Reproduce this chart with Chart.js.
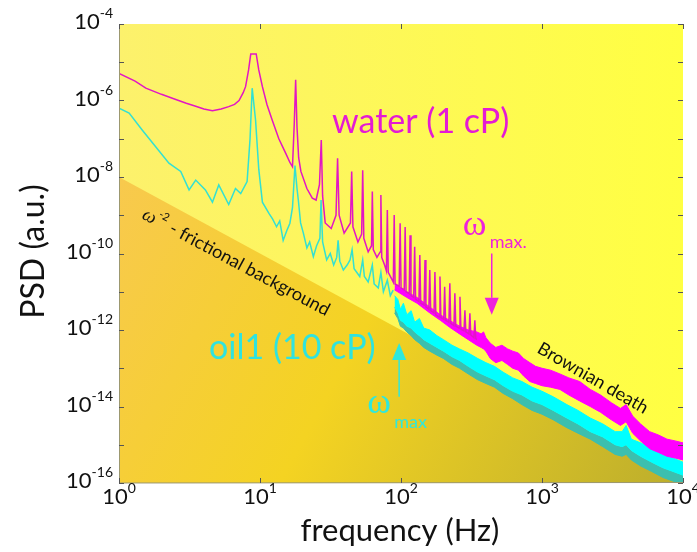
<!DOCTYPE html>
<html>
<head>
<meta charset="utf-8">
<script src="https://cdn.jsdelivr.net/npm/chart.js@4"></script>
<style>
  html, body { margin: 0; padding: 0; background: #fff; }
  #chart { display: block; }
</style>
</head>
<body>
<canvas id="chart" width="697" height="552"></canvas>
<script>
// axis ranges and tick labels (powers of ten)
const xTickExp = [0, 1, 2, 3, 4];
const yTickExp = [-4, -6, -8, -10, -12, -14, -16];
const yMinorExp = [-5, -7, -9, -11, -13, -15];

// water (1 cP): low frequency trace with the harmonic comb
const waterFreq = [1, 1.3, 1.55, 2.0, 2.39, 3.0, 3.5, 4.0, 4.6, 5.3, 6.0, 6.6, 7.1, 7.6, 7.9, 8.3, 8.6, 9.4, 9.8, 10.4,
  11.2, 12.2, 13.6, 15.2, 16.3, 17.0, 17.5, 17.9, 18.3, 18.8, 19.5, 21.5, 23.5, 25.0, 26.4, 27.2, 27.8, 29, 32, 34.6,
  35.5, 36.4, 39.5, 43.8, 44.7, 45.6, 49.5, 52.6, 53.5, 54.5, 58.5, 61.8, 62.6, 63.6, 67.5, 71.2, 72, 73, 76.5,
  78.8, 80, 81.2, 88.2, 89.5, 90.8, 97.1, 98.6, 100.1, 105.4, 107, 108.6, 114.3, 116, 117.7, 123.1, 125, 126.9,
  134, 136, 138, 145.8, 148, 150.2, 157.6, 160, 162.4, 171.4, 174, 176.6, 186.2, 189, 191.8, 201, 204, 207,
  218.7, 222, 225.3, 237.4, 241, 244.6, 258, 262, 266, 279.7, 284, 288.3, 303.4, 308, 312.6, 329, 334, 339, 345];
const waterPsd = [5.1e-6, 3.2e-6, 2.1e-6, 1.45e-6, 1.15e-6, 8.5e-7, 7.1e-7, 6.0e-7, 5.4e-7, 6.0e-7, 6.9e-7, 7.9e-7, 1.0e-6, 1.6e-6, 2.3e-6, 6.3e-6, 1.65e-5, 1.65e-5, 6.3e-6, 2.3e-6,
  7.9e-7, 3.1e-7, 1.0e-7, 4.2e-8, 2.4e-8, 1.85e-8, 2.5e-7, 3.5e-6, 2.0e-7, 3.2e-8, 1.4e-8, 5.0e-9, 2.8e-9, 2.5e-9, 6.3e-9, 9.3e-8, 3.2e-9, 6.3e-10, 4.5e-10, 1.0e-9,
  3.1e-8, 1.0e-9, 3.4e-10, 6.3e-10, 1.4e-8, 5.0e-10, 2.0e-10, 3.2e-10, 1.5e-8, 2.5e-10, 1.1e-10, 1.6e-10, 4.2e-9, 1.26e-10, 7.9e-11, 1.1e-10, 3.4e-9, 7.9e-11, 5.0e-11,
  3.5e-11, 1.38e-9, 3.2e-11, 1.78e-11, 1.02e-9, 1.6e-11, 1.4e-11, 6.2e-10, 1.26e-11, 1.12e-11, 4.9e-10, 1.0e-11, 8.9e-12, 3.0e-10, 7.9e-12, 7.1e-12, 1.5e-10, 6.3e-12,
  5.6e-12, 9.1e-11, 5.0e-12, 4.5e-12, 6.8e-11, 4.0e-12, 3.5e-12, 3.7e-11, 3.2e-12, 2.8e-12, 3.3e-11, 2.5e-12, 2.2e-12, 2.5e-11, 2.1e-12, 1.9e-12, 1.35e-11, 1.8e-12,
  1.6e-12, 1.66e-11, 1.5e-12, 1.3e-12, 9.1e-12, 1.26e-12, 1.12e-12, 7.4e-12, 1.05e-12, 9.5e-13, 3.3e-12, 8.9e-13, 7.9e-13, 2.75e-12, 7.4e-13, 6.3e-13, 1.8e-12, 6.0e-13, 5.6e-13];

// water above ~90 Hz: noisy floor band, upper and lower edge
const waterBandFreq = [90, 110, 130, 160, 190, 220, 260, 300, 345, 370, 385, 400, 430, 470, 520, 570, 620, 680, 740, 820, 900,
  1000, 1150, 1340, 1550, 1850, 2200, 2600, 3100, 3600, 3950, 4400, 5000, 5800, 6700, 7700, 8800, 10000];
const waterBandTop = [1.6e-11, 1.0e-11, 7.1e-12, 4.0e-12, 2.5e-12, 1.8e-12, 1.26e-12, 1.0e-12, 8.9e-13, 7.9e-13, 8.9e-13, 6.3e-13, 4.5e-13, 3.5e-13, 4.0e-13, 3.2e-13, 2.8e-13, 2.5e-13, 1.8e-13, 1.4e-13, 1.12e-13,
  1.0e-13, 8.9e-14, 7.1e-14, 5.6e-14, 4.5e-14, 2.8e-14, 2.0e-14, 1.26e-14, 8.9e-15, 1.12e-14, 5.6e-15, 3.5e-15, 2.2e-15, 1.8e-15, 1.4e-15, 1.26e-15, 1.12e-15];
const waterBandLow = [1.12e-11, 7.1e-12, 5.0e-12, 2.8e-12, 1.8e-12, 1.2e-12, 7.9e-13, 5.6e-13, 4.0e-13, 3.5e-13, 3.2e-13, 2.8e-13, 1.8e-13, 1.4e-13, 1.6e-13, 1.26e-13, 1.0e-13, 8.9e-14, 6.3e-14, 4.5e-14, 4.0e-14,
  3.5e-14, 3.2e-14, 2.8e-14, 2.0e-14, 1.4e-14, 1.0e-14, 7.1e-15, 4.5e-15, 3.2e-15, 4.0e-15, 2.0e-15, 1.26e-15, 7.9e-16, 6.3e-16, 5.0e-16, 4.5e-16, 4.0e-16];

// oil1 (10 cP): low frequency trace
const oilFreq = [1, 1.18, 1.46, 1.82, 2.26, 2.74, 3.14, 3.5, 4.1, 4.6, 5.1, 6.0, 6.7, 7.3, 8.1, 8.5, 8.8, 9.3, 9.8, 10.4,
  11.6, 12.3, 13.1, 13.8, 14.6, 15.5, 16.3, 17.0, 17.7, 18.3, 18.7, 19.4, 20.3, 21.5, 22.5, 23.9, 25.2, 26.6, 27.1, 27.8,
  29.7, 31.5, 33.3, 35.0, 35.8, 36.8, 39, 41.5, 43.5, 45, 46.5, 51, 53.5, 55, 58.5, 62.6, 64.5, 69, 72, 75, 80, 84, 88];
const oilPsd = [6.3e-7, 4.7e-7, 1.7e-7, 6.2e-8, 2.3e-8, 1.4e-8, 4.6e-9, 8.3e-9, 4.6e-9, 2.2e-9, 6.2e-9, 1.9e-9, 5.0e-9, 3.7e-9, 7.6e-9, 1.0e-7, 2.1e-6, 3.1e-7, 1.6e-8, 2.2e-9,
  1.1e-9, 7.9e-10, 5.0e-10, 7.1e-10, 2.2e-10, 4.0e-10, 6.2e-10, 1.6e-9, 2.0e-8, 5.0e-9, 2.5e-9, 6.3e-10, 3.4e-10, 1.4e-10, 2.0e-10, 8.3e-11, 1.6e-10, 2.5e-10, 2.5e-9, 2.0e-10,
  6.8e-11, 1.0e-10, 5.0e-11, 7.9e-11, 2.2e-10, 6.3e-11, 3.7e-11, 5.0e-11, 6.8e-11, 1.26e-10, 4.0e-11, 2.5e-11, 6.8e-11, 2.5e-11, 1.8e-11, 5.0e-11, 1.6e-11, 1.26e-11, 3.2e-11, 1.0e-11, 2.0e-11, 7.9e-12, 1.1e-11];

// oil above ~90 Hz: band edges and the darker noise floor beneath it
const oilBandFreq = [90, 95, 99, 104, 110, 118, 125, 135, 145, 160, 180, 200, 230, 260, 300, 350, 400, 460, 530, 620,
  720, 850, 1000, 1200, 1500, 1800, 2200, 2700, 3300, 3700, 3950, 4300, 5000, 6000, 7200, 8500, 10000];
const oilBandTop = [7.9e-12, 6.3e-12, 3.5e-12, 5.0e-12, 2.5e-12, 3.2e-12, 1.6e-12, 2.0e-12, 1.12e-12, 1.0e-12, 7.1e-13, 5.6e-13, 4.0e-13, 3.2e-13, 2.5e-13, 1.8e-13, 1.4e-13, 1.12e-13, 7.9e-14, 5.6e-14,
  4.5e-14, 3.2e-14, 2.5e-14, 1.8e-14, 1.12e-14, 7.9e-15, 5.0e-15, 3.5e-15, 2.2e-15, 2.2e-15, 3.2e-15, 1.4e-15, 1.12e-15, 7.9e-16, 5.6e-16, 4.5e-16, 3.5e-16];
const oilBandLow = [4.0e-12, 2.8e-12, 1.8e-12, 1.6e-12, 1.26e-12, 1.12e-12, 8.9e-13, 7.1e-13, 5.6e-13, 4.5e-13, 3.5e-13, 2.8e-13, 2.0e-13, 1.6e-13, 1.12e-13, 7.9e-14, 6.3e-14, 5.0e-14, 3.5e-14, 2.5e-14,
  2.0e-14, 1.4e-14, 1.12e-14, 7.9e-15, 5.0e-15, 3.5e-15, 2.2e-15, 1.6e-15, 1.0e-15, 8.9e-16, 1.0e-15, 7.1e-16, 5.0e-16, 3.5e-16, 2.5e-16, 2.0e-16, 1.6e-16];
const oilNoiseLow = [2.8e-12, 2.0e-12, 1.26e-12, 1.12e-12, 8.9e-13, 7.1e-13, 5.6e-13, 4.5e-13, 3.5e-13, 2.8e-13, 2.2e-13, 1.8e-13, 1.26e-13, 1.0e-13, 7.1e-14, 5.0e-14, 4.0e-14, 3.2e-14, 2.2e-14, 1.6e-14,
  1.12e-14, 7.9e-15, 6.3e-15, 4.5e-15, 2.8e-15, 2.0e-15, 1.4e-15, 8.9e-16, 5.6e-16, 5.0e-16, 5.6e-16, 4.0e-16, 2.8e-16, 2.0e-16, 1.4e-16, 1.12e-16, 8.9e-17];

// omega^-2 frictional background
const frictionFreq = [1, 10000];
const frictionPsd = [1e-8, 1e-16];

// omega_max markers (Hz)
const waterMaxHz = 440;
const oilMaxHz = 97;

const pts = (xs, ys) => xs.map((x, i) => ({ x: x, y: ys[i] }));
const FONT = 'Lato, "Open Sans", sans-serif';
const GREEK = '"Liberation Serif", "DejaVu Serif", serif';

function supLabel(ctx, base, exp, x, y, align, size) {
  ctx.font = size + 'px ' + FONT;
  const wb = ctx.measureText(base).width;
  ctx.font = Math.round(size * 0.62) + 'px ' + FONT;
  const we = ctx.measureText(exp).width;
  let x0 = x;
  if (align === 'right') x0 = x - wb - we;
  if (align === 'center') x0 = x - (wb + we) / 2;
  ctx.textAlign = 'left';
  ctx.textBaseline = 'alphabetic';
  ctx.font = size + 'px ' + FONT;
  ctx.fillText(base, x0, y);
  ctx.font = Math.round(size * 0.62) + 'px ' + FONT;
  ctx.fillText(exp, x0 + wb, y - size * 0.5);
}

function arrow(ctx, x, yTail, yTip, color) {
  const dir = yTip > yTail ? 1 : -1;
  const head = 17;
  ctx.strokeStyle = color;
  ctx.fillStyle = color;
  ctx.lineWidth = 1.5;
  ctx.beginPath();
  ctx.moveTo(x, yTail);
  ctx.lineTo(x, yTip - dir * head);
  ctx.stroke();
  ctx.beginPath();
  ctx.moveTo(x - 7, yTip - dir * head);
  ctx.lineTo(x + 7, yTip - dir * head);
  ctx.lineTo(x, yTip);
  ctx.closePath();
  ctx.fill();
}

const decor = {
  id: 'decor',
  beforeDraw(chart) {
    const { ctx, chartArea: a } = chart;
    const g = ctx.createLinearGradient(a.left, a.top, a.right, a.top);
    g.addColorStop(0, '#fcf16c');
    g.addColorStop(1, '#ffff42');
    ctx.save();
    ctx.fillStyle = g;
    ctx.fillRect(a.left, a.top, a.right - a.left, a.bottom - a.top);
    ctx.restore();
  },
  afterDraw(chart) {
    const { ctx, chartArea: a } = chart;
    const xs = chart.scales.x, ys = chart.scales.y;
    ctx.save();

    // faint axis lines and inward ticks
    ctx.strokeStyle = '#9c9870';
    ctx.lineWidth = 1;
    ctx.beginPath();
    ctx.moveTo(a.left + 0.5, a.top);
    ctx.lineTo(a.left + 0.5, a.bottom);
    ctx.lineTo(a.right, a.bottom - 0.5);
    ctx.stroke();
    ctx.strokeStyle = '#555';
    ctx.beginPath();
    xTickExp.forEach(e => {
      const x = Math.round(xs.getPixelForValue(Math.pow(10, e))) + 0.5;
      ctx.moveTo(x, a.bottom); ctx.lineTo(x, a.bottom - 5);
      ctx.moveTo(x, a.top); ctx.lineTo(x, a.top + 5);
    });
    yTickExp.concat(yMinorExp).forEach(e => {
      const y = Math.round(ys.getPixelForValue(Math.pow(10, e))) + 0.5;
      ctx.moveTo(a.left, y); ctx.lineTo(a.left + 5, y);
      ctx.moveTo(a.right, y); ctx.lineTo(a.right - 5, y);
    });
    ctx.stroke();

    // tick labels
    ctx.fillStyle = '#111';
    yTickExp.forEach(e => {
      const y = ys.getPixelForValue(Math.pow(10, e));
      supLabel(ctx, '10', String(e), a.left - 6, y + 5, 'right', 22);
    });
    xTickExp.forEach(e => {
      const x = xs.getPixelForValue(Math.pow(10, e));
      supLabel(ctx, '10', String(e), x, a.bottom + 21, 'center', 22);
    });

    // axis titles
    ctx.font = '31px ' + FONT;
    ctx.textAlign = 'center';
    ctx.textBaseline = 'middle';
    ctx.fillText('frequency (Hz)', (a.left + a.right) / 2 - 1, a.bottom + 48);
    ctx.save();
    ctx.translate(34, (a.top + a.bottom) / 2 - 2);
    ctx.rotate(-Math.PI / 2);
    ctx.font = '32px ' + FONT;
    ctx.fillText('PSD (a.u.)', 0, 0);
    ctx.restore();

    // series labels
    ctx.textAlign = 'left';
    ctx.textBaseline = 'alphabetic';
    ctx.font = '34px ' + FONT;
    ctx.fillStyle = '#e41bd4';
    ctx.fillText('water (1 cP)', 332, 133);
    ctx.fillStyle = '#2fe3df';
    ctx.fillText('oil1 (10 cP)', 209, 359);

    // omega_max markers
    const xw = xs.getPixelForValue(waterMaxHz);
    arrow(ctx, xw, ys.getPixelForValue(1e-10), ys.getPixelForValue(2.5e-12), '#ee22dd');
    ctx.fillStyle = '#ee22dd';
    ctx.font = '36px ' + GREEK;
    ctx.fillText('\u03c9', xw - 29, 235);
    ctx.font = '18px ' + FONT;
    ctx.fillText('max.', xw - 2, 248);

    const xo = xs.getPixelForValue(oilMaxHz);
    arrow(ctx, xo, ys.getPixelForValue(1.8e-14), ys.getPixelForValue(4.6e-13), '#2ee8dd');
    ctx.fillStyle = '#2ee8dd';
    ctx.font = '36px ' + GREEK;
    ctx.fillText('\u03c9', xo - 32, 413);
    ctx.font = '18px ' + FONT;
    ctx.fillText('max', xo - 5, 428);

    // rotated annotations
    ctx.fillStyle = '#111';
    ctx.save();
    ctx.translate(141, 218);
    ctx.rotate(28 * Math.PI / 180);
    ctx.font = 'italic 19px ' + GREEK;
    ctx.fillText('\u03c9', 0, 0);
    let w = ctx.measureText('\u03c9').width;
    ctx.font = '11px ' + FONT;
    ctx.fillText('-2', w + 1, -9);
    w += ctx.measureText('-2').width + 2;
    ctx.font = '18px ' + FONT;
    ctx.fillText(' - frictional background', w, 0);
    ctx.restore();

    ctx.save();
    ctx.translate(536, 352);
    ctx.rotate(30 * Math.PI / 180);
    ctx.font = '18px ' + FONT;
    ctx.fillText('Brownian death', 0, 0);
    ctx.restore();

    ctx.restore();
  }
};

const line = (data, color, width, order, extra) => Object.assign({
  data: data, borderColor: color, borderWidth: width, pointRadius: 0,
  tension: 0, fill: false, order: order
}, extra || {});

new Chart(document.getElementById('chart'), {
  type: 'line',
  data: {
    datasets: [
      line(pts(waterFreq, waterPsd), '#e216c4', 1.5, 1),
      line(pts(waterBandFreq, waterBandTop), '#ff00ff', 1, 2),
      line(pts(waterBandFreq, waterBandLow), '#ff00ff', 1, 2, { fill: 1, backgroundColor: '#ff00ff' }),
      line(pts(oilFreq, oilPsd), '#33e0d2', 1.5, 3),
      line(pts(oilBandFreq, oilBandTop), '#00ffff', 1, 4),
      line(pts(oilBandFreq, oilBandLow), '#00ffff', 1, 4, { fill: 4, backgroundColor: '#00ffff' }),
      line(pts(oilBandFreq, oilNoiseLow), '#3cbfae', 1, 5, { fill: 5, backgroundColor: '#3cbfae' }),
      line(pts(frictionFreq, frictionPsd), 'rgba(0,0,0,0)', 0, 10, {
        fill: 'start',
        backgroundColor: (c) => {
          const a = c.chart.chartArea;
          if (!a) return '#f3d226';
          const g = c.chart.ctx.createLinearGradient(a.left, a.top + 150, a.right, a.bottom);
          g.addColorStop(0, '#f8c94e');
          g.addColorStop(0.45, '#f4d322');
          g.addColorStop(1, '#bcae2c');
          return g;
        }
      })
    ]
  },
  options: {
    responsive: false,
    animation: false,
    devicePixelRatio: 1,
    layout: { padding: { left: 119, right: 14, top: 24, bottom: 69 } },
    plugins: { legend: { display: false }, tooltip: { enabled: false } },
    scales: {
      x: { type: 'logarithmic', min: 1, max: 10000, display: false },
      y: { type: 'logarithmic', min: 1e-16, max: 1e-4, display: false }
    }
  },
  plugins: [decor]
});
</script>
</body>
</html>
